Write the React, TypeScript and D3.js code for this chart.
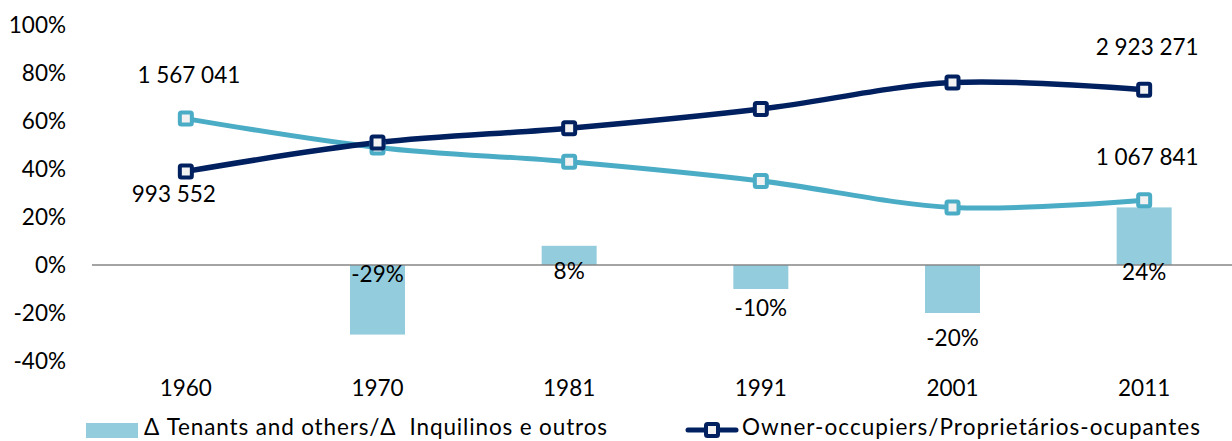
import React from "react";
import * as d3 from "d3";

const years = ["1960", "1970", "1981", "1991", "2001", "2011"];
const owners = [39, 51, 57, 65, 76, 73];
const tenants = [61, 49, 43, 35, 24, 27];
const tenantDelta: (number | null)[] = [null, -29, 8, -10, -20, 24];
const yTicks = [-40, -20, 0, 20, 40, 60, 80, 100];
const pointLabels = [
  { series: "tenants", idx: 0, text: "1 567 041", pos: "above" },
  { series: "owners", idx: 0, text: "993 552", pos: "below" },
  { series: "owners", idx: 5, text: "2 923 271", pos: "above" },
  { series: "tenants", idx: 5, text: "1 067 841", pos: "above" },
];
const legendBar = "Δ Tenants and others/Δ\u00a0 Inquilinos e outros";
const legendLine = "Owner-occupiers/Proprietários-ocupantes";

const W = 1232, H = 441;
const NAVY = "#002060";
const LIGHT = "#4BACC6";
const BAR = "#93CDDD";
const FONT = "Lato, 'Open Sans', sans-serif";

export default function App() {
  const x = d3.scaleBand<string>().domain(years).range([90, 1240]);
  const y = d3.scaleLinear().domain([-40, 100]).range([361, 25]);
  const cx = (d: string) => (x(d) as number) + x.bandwidth() / 2;
  const barW = 55;
  const line = d3
    .line<number>()
    .x((_, i) => cx(years[i]))
    .y((d) => y(d))
    .curve(d3.curveCardinal.tension(0));
  const marker = (px: number, py: number, color: string, key: string) => (
    <rect key={key} x={px - 6} y={py - 6} width={12} height={12} rx={1.5}
      fill="#F2F2F2" stroke={color} strokeWidth={4} />
  );
  const fs = 22.5;
  // label placement offsets (px) for bar value labels, by category index
  const barLabelDy = [0, 9, 6, 19, 25, 7];
  return (
    <svg width={W} height={H} style={{ position: "absolute", left: 0, top: 0 }}
      fontFamily={FONT} fontSize={fs} fill="#000">
      {yTicks.map((t) => (
        <text key={t} x={66} y={y(t)} dy="0.35em" textAnchor="end">{t}%</text>
      ))}
      {tenantDelta.map((v, i) =>
        v == null ? null : (
          <rect key={"b" + i} x={cx(years[i]) - barW / 2} y={y(Math.max(0, v))}
            width={barW} height={Math.abs(y(v) - y(0))} fill={BAR} />
        )
      )}
      <line x1={92} x2={W} y1={y(0)} y2={y(0)} stroke="#868686" strokeWidth={1.5} />
      {years.map((yr) => (
        <text key={yr} x={cx(yr)} y={388} dy="0.35em" textAnchor="middle">{yr}</text>
      ))}
      <path d={line(tenants) || ""} fill="none" stroke={LIGHT} strokeWidth={5} strokeLinejoin="round" />
      <path d={line(owners) || ""} fill="none" stroke={NAVY} strokeWidth={5.5} strokeLinejoin="round" />
      {tenants.map((v, i) => marker(cx(years[i]), y(v), LIGHT, "mt" + i))}
      {owners.map((v, i) => marker(cx(years[i]), y(v), NAVY, "mo" + i))}
      {tenantDelta.map((v, i) => {
        if (v == null) return null;
        const base = (v >= 0 || i === 1 ? y(0) : y(v)) + barLabelDy[i];
        return (
          <text key={"bl" + i} x={cx(years[i])} y={base} dy="0.35em" textAnchor="middle">{v}%</text>
        );
      })}
      {pointLabels.map((p, k) => {
        const arr = p.series === "owners" ? owners : tenants;
        const px = cx(years[p.idx]);
        const py = y(arr[p.idx]);
        return (
          <text key={"pl" + k} x={px + (p.pos === "below" ? -12 : 3)} y={p.pos === "above" ? py - 43 : py + 23}
            dy="0.35em" textAnchor="middle">{p.text}</text>
        );
      })}
      <rect x={86} y={423} width={52} height={15} fill={BAR} />
      <text x={144} y={427} dy="0.35em" textLength={463} lengthAdjust="spacing">{legendBar}</text>
      <line x1={688} x2={736} y1={430} y2={430} stroke={NAVY} strokeWidth={5} strokeLinecap="round" />
      {marker(712, 430, NAVY, "lm")}
      <text x={742} y={427} dy="0.35em" textLength={458} lengthAdjust="spacing">{legendLine}</text>
    </svg>
  );
}
